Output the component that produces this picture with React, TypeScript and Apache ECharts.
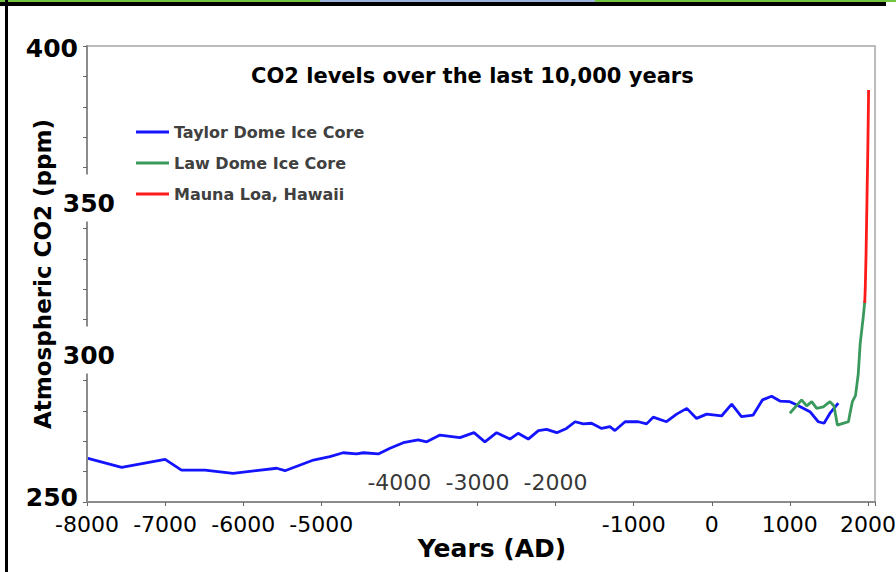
import React, { useEffect, useRef } from "react";
import * as echarts from "echarts";

const TITLE = "CO2 levels over the last 10,000 years";
const X_NAME = "Years (AD)";
const Y_NAME = "Atmospheric CO2 (ppm)";
const SERIES_NAMES = ["Taylor Dome Ice Core", "Law Dome Ice Core", "Mauna Loa, Hawaii"];

const X_MIN = -8000;
const X_MAX = 2090;
const X_STEP = 1000;
const Y_MIN = 250;
const Y_MAX = 400;
const Y_STEP = 10;
const Y_LABEL_STEP = 50;

// tick labels drawn under the axis, and those drawn just above it
const BOTTOM_TICK_LABELS = [-8000, -7000, -6000, -5000, -1000, 0, 1000, 2000];
const INNER_TICK_LABELS = [-4000, -3000, -2000];

const TAYLOR: [number, number][] = [
  [-8000, 264.4], [-7556, 261.4], [-7000, 264.0], [-6790, 260.5], [-6490, 260.5],
  [-6130, 259.4], [-5570, 261.1], [-5465, 260.3], [-5100, 263.8], [-4890, 264.9],
  [-4720, 266.2], [-4550, 265.8], [-4460, 266.2], [-4270, 265.8], [-4120, 267.7],
  [-3950, 269.5], [-3760, 270.4], [-3650, 269.8], [-3480, 272.0], [-3225, 271.2],
  [-3045, 272.8], [-2905, 269.8], [-2755, 272.8], [-2585, 270.7], [-2480, 272.6],
  [-2350, 270.7], [-2220, 273.5], [-2115, 273.9], [-1985, 272.8], [-1860, 274.2],
  [-1750, 276.4], [-1645, 275.7], [-1540, 275.9], [-1410, 274.2], [-1305, 274.8],
  [-1240, 273.5], [-1110, 276.4], [-940, 276.4], [-835, 275.7], [-750, 277.9],
  [-580, 276.4], [-450, 278.9], [-320, 280.8], [-195, 277.5], [-65, 278.9],
  [125, 278.3], [255, 282.2], [380, 278.1], [530, 278.6], [650, 283.6],
  [766, 284.8], [873, 283.2], [1000, 283.0], [1090, 281.9], [1257, 279.7],
  [1364, 276.4], [1437, 275.9], [1514, 279.2], [1620, 282.5],
];

const LAW: [number, number][] = [
  [1000, 279.2], [1150, 283.6], [1215, 281.6], [1280, 283.0], [1343, 280.8],
  [1428, 281.3], [1514, 283.0], [1565, 281.6], [1608, 275.3], [1700, 276.0],
  [1750, 276.4], [1770, 279.2], [1800, 283.0], [1840, 285.0], [1875, 292.0],
  [1900, 302.0], [1940, 311.0], [1960, 316.2],
];

const MAUNA: [number, number][] = [
  [1958, 315.5], [1965, 320.0], [1970, 325.5], [1975, 331.0], [1980, 338.5],
  [1985, 346.0], [1990, 354.0], [1995, 361.0], [2000, 369.5], [2005, 379.0],
  [2008, 385.5],
];

const COLORS = ["#1414ff", "#3a9a5c", "#ff1a1a"];
const FONT = "DejaVu Sans";

export default function App() {
  const ref = useRef<HTMLDivElement>(null);
  useEffect(() => {
    if (!ref.current) return;
    const chart = echarts.init(ref.current, null, { renderer: "svg" });
    const lineSeries = [TAYLOR, LAW, MAUNA].map((d, i) => ({
      name: SERIES_NAMES[i],
      type: "line",
      data: d,
      symbol: "none",
      lineStyle: { color: COLORS[i], width: 2.8 },
      itemStyle: { color: COLORS[i] },
      z: 3,
    }));
    chart.setOption({
      animation: false,
      backgroundColor: "#fff",
      title: {
        text: TITLE,
        left: 246,
        top: 60,
        textStyle: { fontFamily: FONT, fontWeight: "bold", fontSize: 21, color: "#000" },
      },
      legend: {
        data: SERIES_NAMES.map((n) => ({ name: n, icon: "rect" })),
        orient: "vertical",
        left: 136,
        top: 124,
        padding: 0,
        itemWidth: 33,
        itemHeight: 3,
        itemGap: 15,
        textStyle: { fontFamily: FONT, fontWeight: "bold", fontSize: 16, color: "#404040" },
      },
      grid: {
        left: 87,
        right: 21,
        top: 46,
        bottom: 70,
        outerBoundsMode: "none",
        show: true,
        borderColor: "#a6a6a6",
        borderWidth: 1.5,
        backgroundColor: "transparent",
      },
      xAxis: {
        type: "value",
        min: X_MIN,
        max: X_MAX,
        interval: X_STEP,
        name: X_NAME,
        nameLocation: "middle",
        nameGap: 34,
        nameMoveOverlap: false,
        nameTextStyle: { fontFamily: FONT, fontWeight: "bold", fontSize: 25, color: "#000", padding: [0, 0, 0, 22] },
        axisLine: { onZero: false, lineStyle: { color: "#8c8c8c", width: 2 } },
        axisTick: { show: true, length: 4, lineStyle: { color: "#666" } },
        splitLine: { show: false },
        axisLabel: {
          margin: 11,
          fontFamily: FONT,
          fontSize: 22,
          color: "#000",
          formatter: (v: number) => (BOTTOM_TICK_LABELS.includes(v) ? String(v) : ""),
        },
      },
      yAxis: {
        type: "value",
        min: Y_MIN,
        max: Y_MAX,
        interval: Y_STEP,
        z: 5,
        name: Y_NAME,
        nameLocation: "middle",
        nameRotate: 90,
        nameGap: 33,
        nameMoveOverlap: false,
        nameTextStyle: { fontFamily: FONT, fontWeight: "bold", fontSize: 23, color: "#000" },
        axisLine: { onZero: false, lineStyle: { color: "#8c8c8c", width: 2 } },
        axisTick: { show: true, length: 4, lineStyle: { color: "#666" } },
        splitLine: { show: false },
        axisLabel: {
          margin: -31,
          fontFamily: FONT,
          fontWeight: "bold",
          fontSize: 25,
          color: "#000",
          formatter: (v: number) => {
            if (v % Y_LABEL_STEP !== 0) return "";
            if (v === Y_MAX) return `{t|${v}}`;
            if (v === Y_MIN) return `{b|${v}}`;
            return `{w|${v}}`;
          },
          rich: {
            w: {
              fontFamily: FONT, fontWeight: "bold", fontSize: 25, color: "#000",
              backgroundColor: "#fff", padding: [16, 3, 6, 3],
            },
            t: { fontFamily: FONT, fontWeight: "bold", fontSize: 25, color: "#000", padding: [4, 40, 0, 0] },
            b: { fontFamily: FONT, fontWeight: "bold", fontSize: 25, color: "#000", padding: [0, 40, 10, 0] },
          },
        },
      },
      series: [
        ...lineSeries,
        {
          type: "scatter",
          silent: true,
          data: INNER_TICK_LABELS.map((v) => [v, Y_MIN]),
          symbolSize: 1,
          itemStyle: { color: "rgba(0,0,0,0)" },
          label: {
            show: true,
            position: "top",
            distance: 8,
            fontFamily: FONT,
            fontSize: 22,
            color: "#000",
            formatter: (p: any) => String(p.value[0]),
          },
          z: 4,
        },
      ],
      graphic: [
        { type: "rect", shape: { x: 0, y: 0, width: 896, height: 2 }, style: { fill: "#74c443" }, silent: true },
        { type: "rect", shape: { x: 320, y: 0, width: 275, height: 2 }, style: { fill: "#9fb4dc" }, silent: true },
        { type: "rect", shape: { x: 0, y: 2, width: 886, height: 4 }, style: { fill: "#000" }, silent: true },
        { type: "rect", shape: { x: 5, y: 0, width: 3, height: 572 }, style: { fill: "#000" }, silent: true },
      ],
    });
    return () => chart.dispose();
  }, []);
  return (
    <div
      ref={ref}
      style={{ position: "fixed", left: 0, top: 0, width: 896, height: 572, background: "#fff" }}
    />
  );
}
